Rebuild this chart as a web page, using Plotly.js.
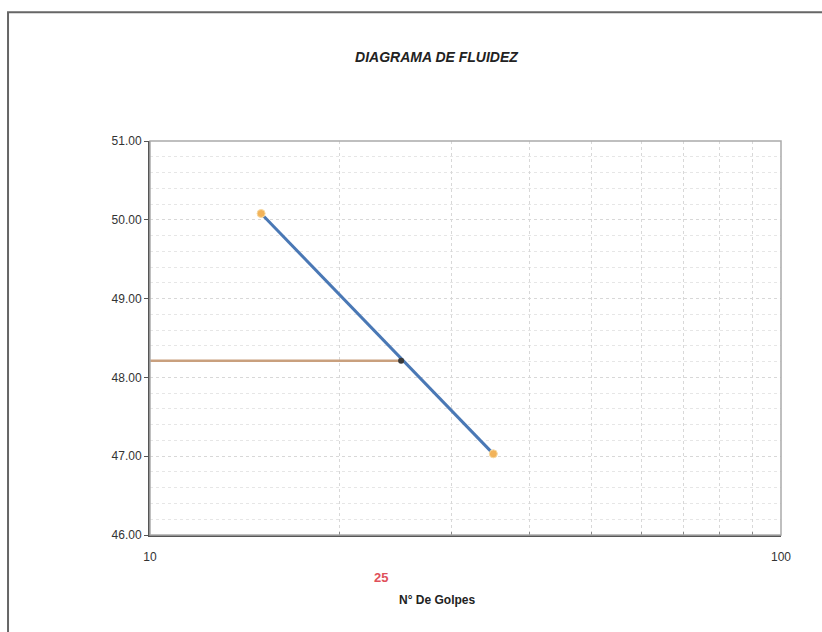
<!DOCTYPE html>
<html><head><meta charset="utf-8">
<script src="https://cdn.plot.ly/plotly-3.0.1.min.js"></script>
<style>html,body{margin:0;padding:0;background:#fff;}#chart{width:822px;height:632px;}</style>
</head><body><div id="chart"></div>
<script>
// Data
const golpes = [15, 35];
const humedad = [50.08, 47.03];
const golpes25 = [10, 25];
const humedad25 = [48.21, 48.21];
const xTickVals = [10, 20, 30, 40, 50, 60, 70, 80, 90, 100];
const xTickText = ['10', '', '', '', '', '', '', '', '', '100'];
const chartTitle = 'DIAGRAMA DE FLUIDEZ';
const xTitle = 'N° De Golpes';
const label25 = '25';

const traces = [
  {x: golpes25, y: humedad25, mode: 'lines', line: {color: '#c9a07e', width: 2.5}, hoverinfo: 'none', showlegend: false},
  {x: golpes, y: humedad, mode: 'lines+markers', line: {color: '#4a78b5', width: 3},
   marker: {color: '#f2b35a', size: 8, line: {color: '#f7d9a0', width: 1}}, showlegend: false},
  {x: [golpes25[1]], y: [humedad25[1]], mode: 'markers', marker: {color: '#3a3a3a', size: 6}, showlegend: false}
];

const layout = {
  width: 822, height: 632,
  margin: {l: 150, r: 41, t: 141, b: 97},
  paper_bgcolor: '#fff', plot_bgcolor: '#fff',
  font: {family: 'Liberation Sans, Arial, sans-serif', color: '#333'},
  title: {text: '<b><i>' + chartTitle + '</i></b>', x: 0.531, xanchor: 'center', y: 0.91, yanchor: 'middle',
          font: {size: 14, color: '#222'}},
  xaxis: {type: 'log', range: [1, 2], tickvals: xTickVals, ticktext: xTickText,
          showgrid: true, gridcolor: '#d8d8d8', griddash: 'dot', gridwidth: 1,
          showline: true, linecolor: '#555', linewidth: 2, mirror: false,
          ticks: 'inside', ticklen: 3, tickcolor: '#888', zeroline: false,
          ticklabelstandoff: 10,
          tickfont: {size: 12, color: '#333'},
          title: {text: ''}},
  yaxis: {range: [46, 51], dtick: 1, tickformat: '.2f',
          showgrid: true, gridcolor: '#d8d8d8', griddash: 'dot',
          minor: {dtick: 0.2, showgrid: true, gridcolor: '#e6e6e6', griddash: 'dot'},
          showline: true, linecolor: '#555', linewidth: 2,
          ticks: 'outside', ticklen: 4, tickcolor: '#555', zeroline: false,
          tickfont: {size: 12, color: '#333'}},
  shapes: [
    {type: 'rect', xref: 'paper', yref: 'paper', x0: 0, x1: 1, y0: 0, y1: 1, line: {color: '#aaa', width: 1.5}},
    {type: 'rect', xref: 'paper', yref: 'paper', x0: -0.225, x1: 1.1, y0: -0.3, y1: 1.327, line: {color: '#666', width: 2}}
  ],
  annotations: [
    {text: '<b>' + label25 + '</b>', xref: 'paper', yref: 'paper', x: 0.366, y: -0.107, xanchor: 'center', yanchor: 'middle',
     showarrow: false, font: {size: 13, color: '#e0505a'}},
    {text: '<b>' + xTitle + '</b>', xref: 'paper', yref: 'paper', x: 0.455, y: -0.165, xanchor: 'center', yanchor: 'middle',
     showarrow: false, font: {size: 12, color: '#222'}}
  ]
};
Plotly.newPlot('chart', traces, layout, {displayModeBar: false, staticPlot: true});
</script></body></html>
